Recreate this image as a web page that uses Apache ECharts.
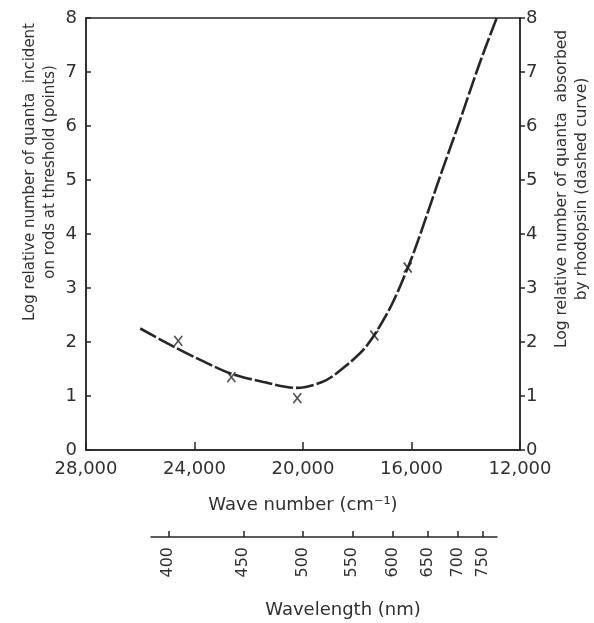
<!DOCTYPE html>
<html>
<head>
<meta charset="utf-8">
<script src="https://cdn.jsdelivr.net/npm/echarts@6/dist/echarts.min.js"></script>
<style>
  html, body { margin: 0; background: #fff; }
  #chart { width: 594px; height: 623px; }
</style>
</head>
<body>
<div id="chart"></div>
<script>
// dashed curve: rhodopsin absorption (wave number cm-1, log quanta)
const curveWaveNumbers = [26000, 24720, 23920, 22690, 21460, 20230, 19200, 18390, 17650, 16790, 16100, 15750, 14950, 14210, 13475, 12860]
const curveLogQuanta = [2.25, 1.9, 1.7, 1.42, 1.26, 1.15, 1.28, 1.57, 1.93, 2.63, 3.42, 3.89, 5.06, 6.11, 7.18, 8.0]

// threshold points (x marks)
const pointWaveNumbers = [24600, 22640, 20210, 17370, 16140]
const pointLogQuanta = [2.02, 1.35, 0.96, 2.12, 3.38]

// secondary wavelength scale (nm)
const wavelengthTicks = [400, 450, 500, 550, 600, 650, 700, 750]
const wavelengthRange = [390, 780]

const FONT = "DejaVu Sans"
const INK = "#262626"
const TEXT = "#303030"

const chart = echarts.init(document.getElementById("chart"))

const curveData = curveWaveNumbers.map((x, i) => [x, curveLogQuanta[i]])
const pointData = pointWaveNumbers.map((x, i) => [x, pointLogQuanta[i]])
const wavelengthValues = wavelengthTicks.map((nm) => 1e7 / nm)

const yAxisBase = {
  type: "value",
  min: 0,
  max: 8,
  interval: 1,
  splitLine: { show: false },
  axisLine: { show: true, lineStyle: { color: INK, width: 1.5 } },
  axisTick: { show: true, length: 5, lineStyle: { color: INK, width: 1.5 } },
  axisLabel: { fontFamily: FONT, fontSize: 18, color: TEXT, margin: 9 },
}

chart.setOption({
  backgroundColor: "#fff",
  animation: false,
  grid: [
    {
      left: 86,
      right: 74,
      top: 18,
      bottom: 173,
      show: true,
      borderColor: INK,
      borderWidth: 1.5,
    },
    { left: 151, right: 97, top: 520, height: 17 },
  ],
  xAxis: [
    {
      type: "value",
      gridIndex: 0,
      min: 12000,
      max: 28000,
      interval: 4000,
      inverse: true,
      splitLine: { show: false },
      axisLine: { lineStyle: { color: INK, width: 1.5 } },
      axisTick: { inside: true, length: 8, lineStyle: { color: INK, width: 1.5 } },
      axisLabel: {
        fontFamily: FONT,
        fontSize: 18,
        color: TEXT,
        margin: 10,
        formatter: (v) => v.toLocaleString("en-US"),
      },
      name: "Wave number (cm\u207B\u00B9)",
      nameLocation: "middle",
      nameGap: 46,
      nameTextStyle: { fontFamily: FONT, fontSize: 18, color: TEXT },
    },
    {
      type: "value",
      gridIndex: 1,
      min: 1e7 / wavelengthRange[1],
      max: 1e7 / wavelengthRange[0],
      inverse: true,
      splitLine: { show: false },
      axisLine: { lineStyle: { color: INK, width: 1.5 } },
      axisTick: {
        inside: true,
        length: 6,
        customValues: wavelengthValues,
        lineStyle: { color: INK, width: 1.5 },
      },
      axisLabel: {
        customValues: wavelengthValues,
        rotate: 90,
        margin: 10,
        fontFamily: FONT,
        fontSize: 16,
        color: TEXT,
        formatter: (v) => String(Math.round(1e7 / v)),
      },
    },
  ],
  yAxis: [
    {
      ...yAxisBase,
      gridIndex: 0,
      position: "left",
      axisTick: { ...yAxisBase.axisTick, inside: true },
    },
    {
      ...yAxisBase,
      gridIndex: 0,
      position: "right",
      axisLabel: { ...yAxisBase.axisLabel, margin: 6 },
    },
    { type: "value", gridIndex: 1, show: false, min: 0, max: 1 },
  ],
  graphic: [
    {
      type: "text",
      x: 40,
      y: 172,
      rotation: Math.PI / 2,
      style: {
        text: "Log relative number of quanta  incident\non rods at threshold (points)",
        font: `15px "${FONT}"`,
        fill: TEXT,
        textAlign: "center",
        textVerticalAlign: "middle",
        lineHeight: 20,
      },
    },
    {
      type: "text",
      x: 572,
      y: 189,
      rotation: Math.PI / 2,
      style: {
        text: "Log relative number of quanta  absorbed\nby rhodopsin (dashed curve)",
        font: `15.5px "${FONT}"`,
        fill: TEXT,
        textAlign: "center",
        textVerticalAlign: "middle",
        lineHeight: 20,
      },
    },
    {
      type: "text",
      x: 343,
      y: 610,
      style: {
        text: "Wavelength (nm)",
        font: `18px "${FONT}"`,
        fill: TEXT,
        textAlign: "center",
        textVerticalAlign: "middle",
      },
    },
  ],
  series: [
    {
      type: "line",
      xAxisIndex: 0,
      yAxisIndex: 0,
      data: curveData,
      smooth: 0.3,
      showSymbol: false,
      lineStyle: { color: INK, width: 2.6, type: [18, 3] },
      z: 2,
    },
    {
      type: "scatter",
      xAxisIndex: 0,
      yAxisIndex: 0,
      data: pointData,
      symbol: "path://M0,0L10,12M10,0L0,12",
      symbolSize: [8, 10],
      itemStyle: { color: "none", borderColor: INK, borderWidth: 1.7 },
      z: 3,
    },
    { type: "scatter", xAxisIndex: 1, yAxisIndex: 2, data: [] },
  ],
})
</script>
</body>
</html>
